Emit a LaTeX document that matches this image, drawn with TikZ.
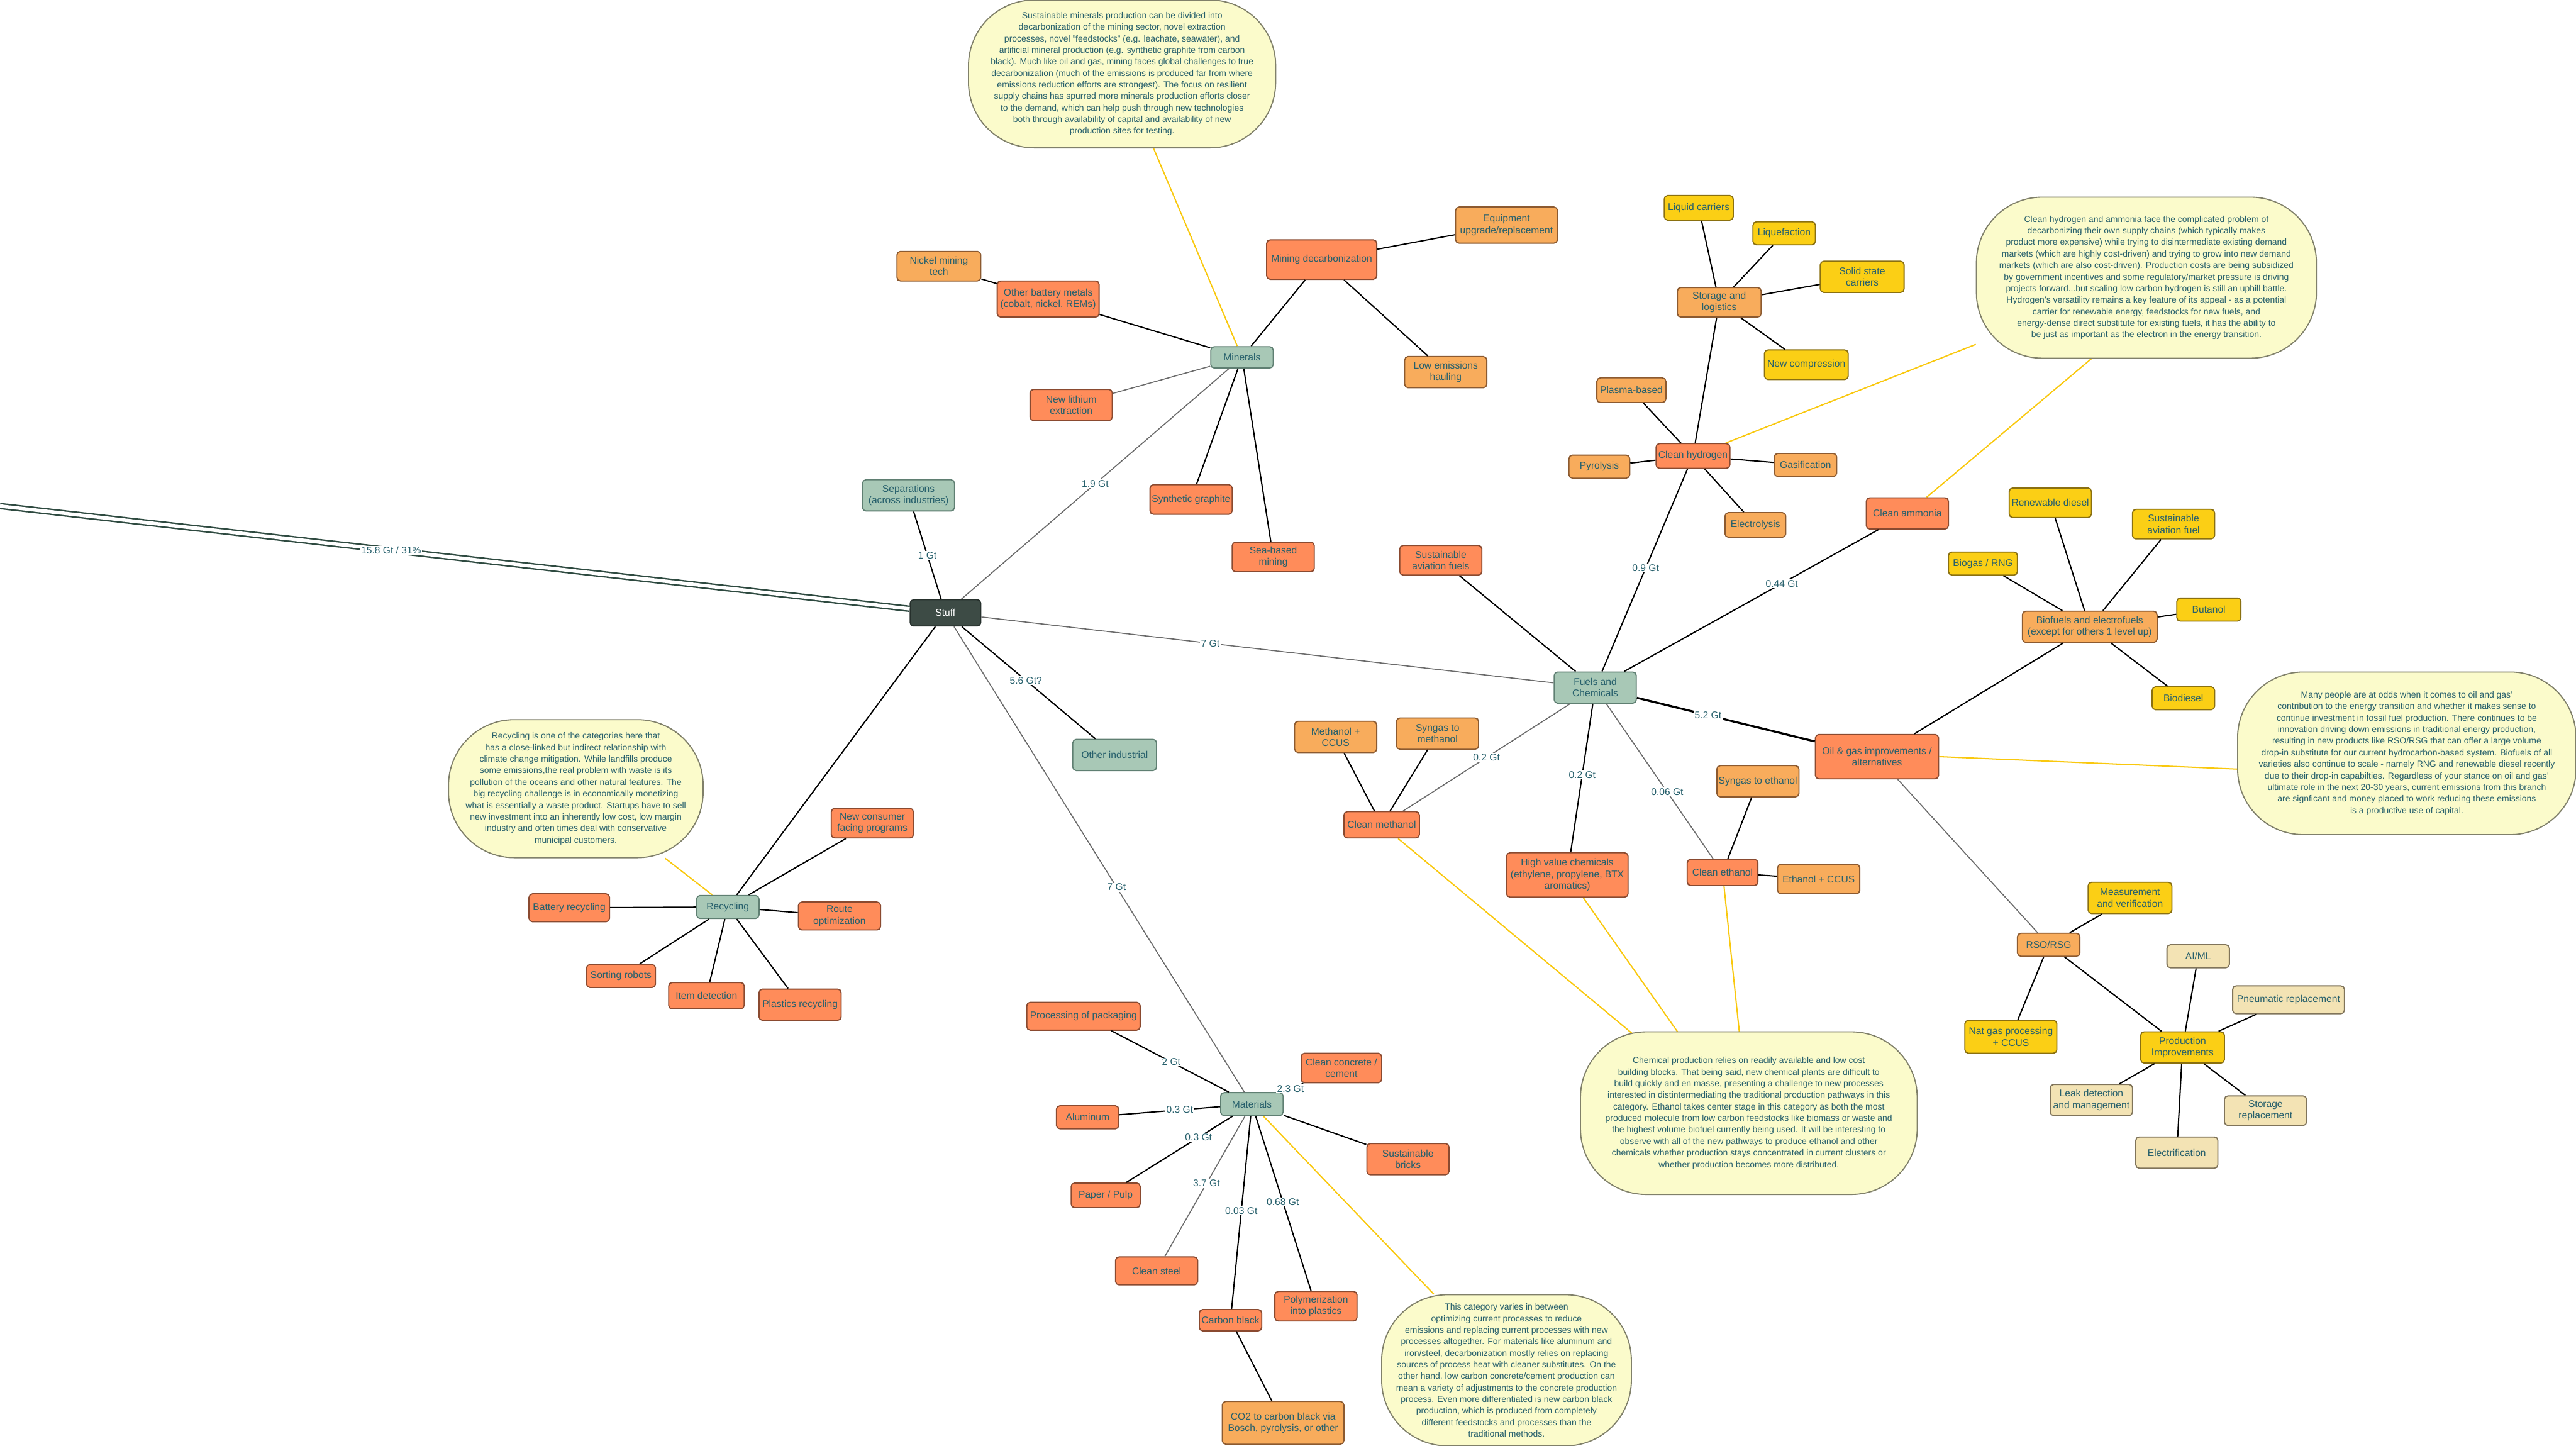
\documentclass[tikz,border=0pt]{standalone}
\usepackage{fontspec}
\setmainfont{Liberation Sans}
\usetikzlibrary{positioning, calc, backgrounds}
\definecolor{tealtext}{HTML}{27606C}
\definecolor{catfill}{HTML}{A8C8B6}
\definecolor{catline}{HTML}{5F7F72}
\definecolor{hotfill}{HTML}{FF8C5A}
\definecolor{hotline}{HTML}{8A4A30}
\definecolor{warmfill}{HTML}{F8AC5C}
\definecolor{warmline}{HTML}{8C5A30}
\definecolor{goldfill}{HTML}{FBCF15}
\definecolor{goldline}{HTML}{8A7010}
\definecolor{sandfill}{HTML}{F3E3B4}
\definecolor{sandline}{HTML}{80745A}
\definecolor{notefill}{HTML}{FBFBCB}
\definecolor{noteline}{HTML}{80806A}
\definecolor{noteyellow}{HTML}{F9C80E}
\definecolor{linkgray}{HTML}{6B6B6B}
\definecolor{stufffill}{HTML}{3D4B45}
\definecolor{stuffline}{HTML}{26302C}
\definecolor{longline}{HTML}{2E4A40}
\newcommand{\boxfont}{\fontsize{8.5}{10}\selectfont}
\newcommand{\notefont}{\fontsize{7.6}{10}\selectfont}
\tikzset{
  nbox/.style={rectangle, rounded corners=3pt, line width=1pt, align=center,
               inner sep=1.2pt, text=tealtext, font=\boxfont},
  sz/.style 2 args={minimum width=#1cm, minimum height=#2cm},
  cat/.style={nbox, draw=catline, fill=catfill},
  hot/.style={nbox, draw=hotline, fill=hotfill},
  warm/.style={nbox, draw=warmline, fill=warmfill},
  gold/.style={nbox, draw=goldline, fill=goldfill},
  sand/.style={nbox, draw=sandline, fill=sandfill},
  notebox/.style={rectangle, rounded corners=2cm, line width=1pt, draw=noteline,
                  fill=notefill, align=center, inner sep=2pt, text=tealtext,
                  font=\notefont},
  link/.style={line width=1.1pt, black},
  glink/.style={line width=0.9pt, linkgray},
  thicklink/.style={line width=1.8pt, black},
  ylink/.style={line width=1.1pt, noteyellow},
  wt/.style={fill=white, inner sep=0.8pt, text=tealtext, font=\boxfont},
}

\begin{document}
\begin{tikzpicture}[x=0.05cm, y=-0.05cm]
  \useasboundingbox (0,0) rectangle (1568,880);

  % categories
  \node[nbox, draw=stuffline, fill=stufffill, text=white, sz={2.15}{0.8}] (stuff) at (575.5,373) {Stuff};
  \node[cat, sz={2.8}{0.95}] (sep) at (553,301.5) {Separations\\(across industries)};
  \node[cat, sz={1.9}{0.65}] (minerals) at (756,217.5) {Minerals};
  \node[cat, sz={2.5}{0.95}] (fuels) at (971,418.5) {Fuels and\\Chemicals};
  \node[cat, sz={2.55}{0.95}] (other) at (678.5,459.5) {Other industrial};
  \node[cat, sz={1.9}{0.7}] (recyc) at (443,552) {Recycling};
  \node[cat, sz={1.9}{0.7}] (mater) at (762,672) {Materials};
  \coordinate (west) at (0,308);

  % minerals
  \node[hot, sz={3.35}{1.2}] (mdecarb) at (804.5,158) {Mining decarbonization};
  \node[warm, sz={3.1}{1.1}] (equip) at (917,137) {Equipment\\upgrade/replacement};
  \node[warm, sz={2.55}{0.9}] (nickel) at (571.5,162) {Nickel mining\\tech};
  \node[hot, sz={3.1}{1.1}] (battmet) at (638,182) {Other battery metals\\(cobalt, nickel, REMs)};
  \node[hot, sz={2.5}{0.95}] (lithium) at (652,246.5) {New lithium\\extraction};
  \node[warm, sz={2.5}{0.95}] (hauling) at (880,226.5) {Low emissions\\hauling};
  \node[hot, sz={2.5}{0.9}] (graphite) at (725,304) {Synthetic graphite};
  \node[hot, sz={2.5}{0.9}] (seamin) at (775,339) {Sea-based\\mining};

  % hydrogen and ammonia
  \node[hot, sz={2.25}{0.75}] (h2) at (1030.5,277.5) {Clean hydrogen};
  \node[warm, sz={2.55}{0.9}] (storlog) at (1046.5,184) {Storage and\\logistics};
  \node[gold, sz={2.1}{0.75}] (liqcar) at (1034,126.5) {Liquid carriers};
  \node[gold, sz={1.9}{0.7}] (liquef) at (1086,142) {Liquefaction};
  \node[gold, sz={2.55}{0.95}] (solid) at (1133.5,168.5) {Solid state\\carriers};
  \node[gold, sz={2.55}{0.9}] (newcomp) at (1099.5,222) {New compression};
  \node[warm, sz={2.1}{0.75}] (plasma) at (993,237.5) {Plasma-based};
  \node[warm, sz={1.85}{0.7}] (pyro) at (973.5,284) {Pyrolysis};
  \node[warm, sz={1.9}{0.7}] (gasif) at (1099,283) {Gasification};
  \node[warm, sz={1.85}{0.75}] (electro) at (1068.5,319.5) {Electrolysis};
  \node[hot, sz={2.5}{0.95}] (nh3) at (1161,312.5) {Clean ammonia};
  \node[hot, sz={2.5}{0.9}] (saf) at (877,341) {Sustainable\\aviation fuels};

  % chemicals
  \node[hot, sz={2.3}{0.8}] (meoh) at (841,502) {Clean methanol};
  \node[warm, sz={2.5}{0.95}] (meohccus) at (813,448.5) {Methanol +\\CCUS};
  \node[warm, sz={2.5}{0.95}] (syngasme) at (875,446.5) {Syngas to\\methanol};
  \node[hot, sz={3.7}{1.35}] (hvc) at (954,532.5) {High value chemicals\\(ethylene, propylene, BTX\\aromatics)};
  \node[hot, sz={2.15}{0.8}] (etoh) at (1048.5,531) {Clean ethanol};
  \node[warm, sz={2.5}{0.95}] (syngaset) at (1070,475.5) {Syngas to ethanol};
  \node[warm, sz={2.5}{0.9}] (etohccus) at (1107,535) {Ethanol + CCUS};

  % oil and gas
  \node[hot, sz={3.75}{1.35}] (oilgas) at (1142.5,460.5) {Oil \& gas improvements /\\alternatives};
  \node[warm, sz={4.1}{0.95}] (biofuel) at (1272,381.5) {Biofuels and electrofuels\\(except for others 1 level up)};
  \node[gold, sz={2.5}{0.9}] (rdiesel) at (1248,306) {Renewable diesel};
  \node[gold, sz={2.5}{0.9}] (safuel) at (1323,319) {Sustainable\\aviation fuel};
  \node[gold, sz={2.1}{0.7}] (biogas) at (1207,343) {Biogas / RNG};
  \node[gold, sz={1.95}{0.7}] (butanol) at (1344.5,371) {Butanol};
  \node[gold, sz={1.9}{0.7}] (biodiesel) at (1329,425) {Biodiesel};
  \node[warm, sz={1.9}{0.7}] (rso) at (1247,575) {RSO/RSG};
  \node[gold, sz={2.55}{0.95}] (measure) at (1296.5,546.5) {Measurement\\and verification};
  \node[gold, sz={2.8}{1.0}] (natgas) at (1224,631) {Nat gas processing\\+ CCUS};
  \node[gold, sz={2.55}{0.95}] (prodimp) at (1328.5,637.5) {Production\\Improvements};
  \node[sand, sz={1.9}{0.7}] (aiml) at (1338,582) {AI/ML};
  \node[sand, sz={3.4}{0.85}] (pneum) at (1393,608.5) {Pneumatic replacement};
  \node[sand, sz={2.5}{0.95}] (leak) at (1273,669.5) {Leak detection\\and management};
  \node[sand, sz={2.5}{0.9}] (storrep) at (1379,676) {Storage\\replacement};
  \node[sand, sz={2.5}{0.95}] (electrif) at (1325,701.5) {Electrification};

  % recycling
  \node[hot, sz={2.45}{0.85}] (battrec) at (346.5,552.5) {Battery recycling};
  \node[hot, sz={2.5}{0.9}] (consumer) at (531,501) {New consumer\\facing programs};
  \node[hot, sz={2.5}{0.85}] (route) at (511,557.5) {Route\\optimization};
  \node[hot, sz={2.1}{0.7}] (sorting) at (378,594) {Sorting robots};
  \node[hot, sz={2.3}{0.8}] (itemdet) at (430,606) {Item detection};
  \node[hot, sz={2.5}{0.95}] (plastrec) at (487,611.5) {Plastics recycling};

  % materials
  \node[hot, sz={3.45}{0.85}] (packag) at (659.5,618.5) {Processing of packaging};
  \node[hot, sz={2.45}{0.9}] (concrete) at (816.5,650) {Clean concrete /\\cement};
  \node[hot, sz={1.9}{0.7}] (alum) at (662,680) {Aluminum};
  \node[hot, sz={2.1}{0.75}] (paper) at (673,727.5) {Paper / Pulp};
  \node[hot, sz={2.5}{0.95}] (bricks) at (857,705.5) {Sustainable\\bricks};
  \node[hot, sz={2.5}{0.85}] (steel) at (704,773.5) {Clean steel};
  \node[hot, sz={1.9}{0.65}] (cblack) at (749,803.5) {Carbon black};
  \node[hot, sz={2.5}{0.9}] (polym) at (801,795) {Polymerization\\into plastics};
  \node[warm, sz={3.7}{1.3}] (co2cb) at (781,866) {CO2 to carbon black via\\Bosch, pyrolysis, or other};

  % notes
  \node[notebox, sz={9.35}{4.5}] (minnote) at (683,45) {Sustainable minerals production can be divided into\\
    decarbonization of the mining sector, novel extraction\\
    processes, novel "feedstocks" (e.g. leachate, seawater), and\\
    artificial mineral production (e.g. synthetic graphite from carbon\\
    black). Much like oil and gas, mining faces global challenges to true\\
    decarbonization (much of the emissions is produced far from where\\
    emissions reduction efforts are strongest). The focus on resilient\\
    supply chains has spurred more minerals production efforts closer\\
    to the demand, which can help push through new technologies\\
    both through availability of capital and availability of new\\
    production sites for testing.};
  \node[notebox, sz={10.35}{4.9}] (hnote) at (1306.5,169) {Clean hydrogen and ammonia face the complicated problem of\\
    decarbonizing their own supply chains (which typically makes\\
    product more expensive) while trying to disintermediate existing demand\\
    markets (which are highly cost-driven) and trying to grow into new demand\\
    markets (which are also cost-driven). Production costs are being subsidized\\
    by government incentives and some regulatory/market pressure is driving\\
    projects forward...but scaling low carbon hydrogen is still an uphill battle.\\
    Hydrogen's versatility remains a key feature of its appeal - as a potential\\
    carrier for renewable energy, feedstocks for new fuels, and\\
    energy-dense direct substitute for existing fuels, it has the ability to\\
    be just as important as the electron in the energy transition.};
  \node[notebox, sz={10.3}{4.95}] (onote) at (1465,458.5) {Many people are at odds when it comes to oil and gas'\\
    contribution to the energy transition and whether it makes sense to\\
    continue investment in fossil fuel production. There continues to be\\
    innovation driving down emissions in traditional energy production,\\
    resulting in new products like RSO/RSG that can offer a large volume\\
    drop-in substitute for our current hydrocarbon-based system. Biofuels of all\\
    varieties also continue to scale - namely RNG and renewable diesel recently\\
    due to their drop-in capabilties. Regardless of your stance on oil and gas'\\
    ultimate role in the next 20-30 years, current emissions from this branch\\
    are signficant and money placed to work reducing these emissions\\
    is a productive use of capital.};
  \node[notebox, sz={10.25}{4.95}] (cnote) at (1064.5,677.5) {Chemical production relies on readily available and low cost\\
    building blocks. That being said, new chemical plants are difficult to\\
    build quickly and en masse, presenting a challenge to new processes\\
    interested in distintermediating the traditional production pathways in this\\
    category. Ethanol takes center stage in this category as both the most\\
    produced molecule from low carbon feedstocks like biomass or waste and\\
    the highest volume biofuel currently being used. It will be interesting to\\
    observe with all of the new pathways to produce ethanol and other\\
    chemicals whether production stays concentrated in current clusters or\\
    whether production becomes more distributed.};
  \node[notebox, sz={7.6}{4.6}] (matnote) at (917,834) {This category varies in between\\
    optimizing current processes to reduce\\
    emissions and replacing current processes with new\\
    processes altogether. For materials like aluminum and\\
    iron/steel, decarbonization mostly relies on replacing\\
    sources of process heat with cleaner substitutes. On the\\
    other hand, low carbon concrete/cement production can\\
    mean a variety of adjustments to the concrete production\\
    process. Even more differentiated is new carbon black\\
    production, which is produced from completely\\
    different feedstocks and processes than the\\
    traditional methods.};
  \node[notebox, sz={7.75}{4.2}] (rnote) at (350.5,480) {Recycling is one of the categories here that\\
    has a close-linked but indirect relationship with\\
    climate change mitigation. While landfills produce\\
    some emissions,the real problem with waste is its\\
    pollution of the oceans and other natural features. The\\
    big recycling challenge is in economically monetizing\\
    what is essentially a waste product. Startups have to sell\\
    new investment into an inherently low cost, low margin\\
    industry and often times deal with conservative\\
    municipal customers.};

  % note connectors
  \begin{scope}[on background layer]
    \draw[ylink] (minerals) -- (minnote);
    \draw[ylink] (h2) -- (hnote);
    \draw[ylink] (nh3) -- ([xshift=-1.2cm, yshift=0.4cm]hnote.south);
    \draw[ylink] (oilgas.east) -- ($(onote.west)+(10,10)$);
    \draw[ylink] (meoh) -- ($(cnote.north)+(-63,8)$);
    \draw[ylink] (hvc) -- ($(cnote.north)+(-38,8)$);
    \draw[ylink] (etoh) -- ($(cnote.north)+(-5,8)$);
    \draw[ylink] (mater) -- (matnote);
    \draw[ylink] (recyc) -- (rnote);
  \end{scope}

  % stuff links
  \draw[longline, line width=1.3pt, double=white, double distance=3pt]
    (west) -- node[wt, pos=0.43] {15.8 Gt / 31\%} (stuff);
  \draw[link] (sep) -- node[wt] {1 Gt} (stuff);
  \draw[glink] (stuff) -- node[wt, pos=0.5] {1.9 Gt} (minerals);
  \draw[glink] (stuff) -- node[wt, pos=0.4] {7 Gt} (fuels);
  \draw[link] (stuff) -- node[wt, pos=0.48] {5.6 Gt?} (other);
  \draw[glink] (stuff) -- node[wt, pos=0.56] {7 Gt} (mater);
  \draw[link] (stuff) -- (recyc);

  % minerals links
  \foreach \b in {mdecarb, battmet, graphite, seamin}
    \draw[link] (minerals) -- (\b);
  \draw[glink] (minerals) -- (lithium);
  \draw[link] (mdecarb) -- (equip);
  \draw[link] (mdecarb) -- (hauling);
  \draw[link] (battmet) -- (nickel);

  % fuels and chemicals links
  \draw[link] (fuels) -- node[wt, pos=0.51] {0.9 Gt} (h2);
  \draw[link] (fuels) -- node[wt, pos=0.62] {0.44 Gt} (nh3);
  \draw[link] (fuels) -- (saf);
  \draw[thicklink] (fuels) -- node[wt, pos=0.4] {5.2 Gt} (oilgas);
  \draw[glink] (fuels) -- node[wt, pos=0.5] {0.2 Gt} (meoh);
  \draw[link] (fuels) -- node[wt, pos=0.48] {0.2 Gt} (hvc);
  \draw[glink] (fuels) -- node[wt, pos=0.57] {0.06 Gt} (etoh);
  \foreach \b in {storlog, plasma, pyro, gasif, electro}
    \draw[link] (h2) -- (\b);
  \foreach \b in {liqcar, liquef, solid, newcomp}
    \draw[link] (storlog) -- (\b);
  \foreach \b in {meohccus, syngasme}
    \draw[link] (meoh) -- (\b);
  \foreach \b in {syngaset, etohccus}
    \draw[link] (etoh) -- (\b);
  \draw[link] (oilgas) -- (biofuel);
  \foreach \b in {rdiesel, safuel, biogas, butanol, biodiesel}
    \draw[link] (biofuel) -- (\b);
  \draw[glink] (oilgas) -- (rso);
  \foreach \b in {measure, natgas, prodimp}
    \draw[link] (rso) -- (\b);
  \foreach \b in {aiml, pneum, leak, storrep, electrif}
    \draw[link] (prodimp) -- (\b);

  % recycling links
  \foreach \b in {battrec, consumer, route, sorting, itemdet, plastrec}
    \draw[link] (recyc) -- (\b);

  % materials links
  \draw[link] (mater) -- node[wt, pos=0.49] {2 Gt} (packag);
  \draw[link] (mater) -- node[wt, pos=0.4] {2.3 Gt} (concrete);
  \draw[link] (mater) -- node[wt, pos=0.4] {0.3 Gt} (alum);
  \draw[link] (mater) -- node[wt, pos=0.32] {0.3 Gt} (paper);
  \draw[glink] (mater) -- node[wt, pos=0.48] {3.7 Gt} (steel);
  \draw[link] (mater) -- node[wt, pos=0.49] {0.03 Gt} (cblack);
  \draw[link] (mater) -- node[wt, pos=0.49] {0.68 Gt} (polym);
  \draw[link] (mater) -- (bricks);
  \draw[link] (cblack) -- (co2cb);
\end{tikzpicture}
\end{document}
